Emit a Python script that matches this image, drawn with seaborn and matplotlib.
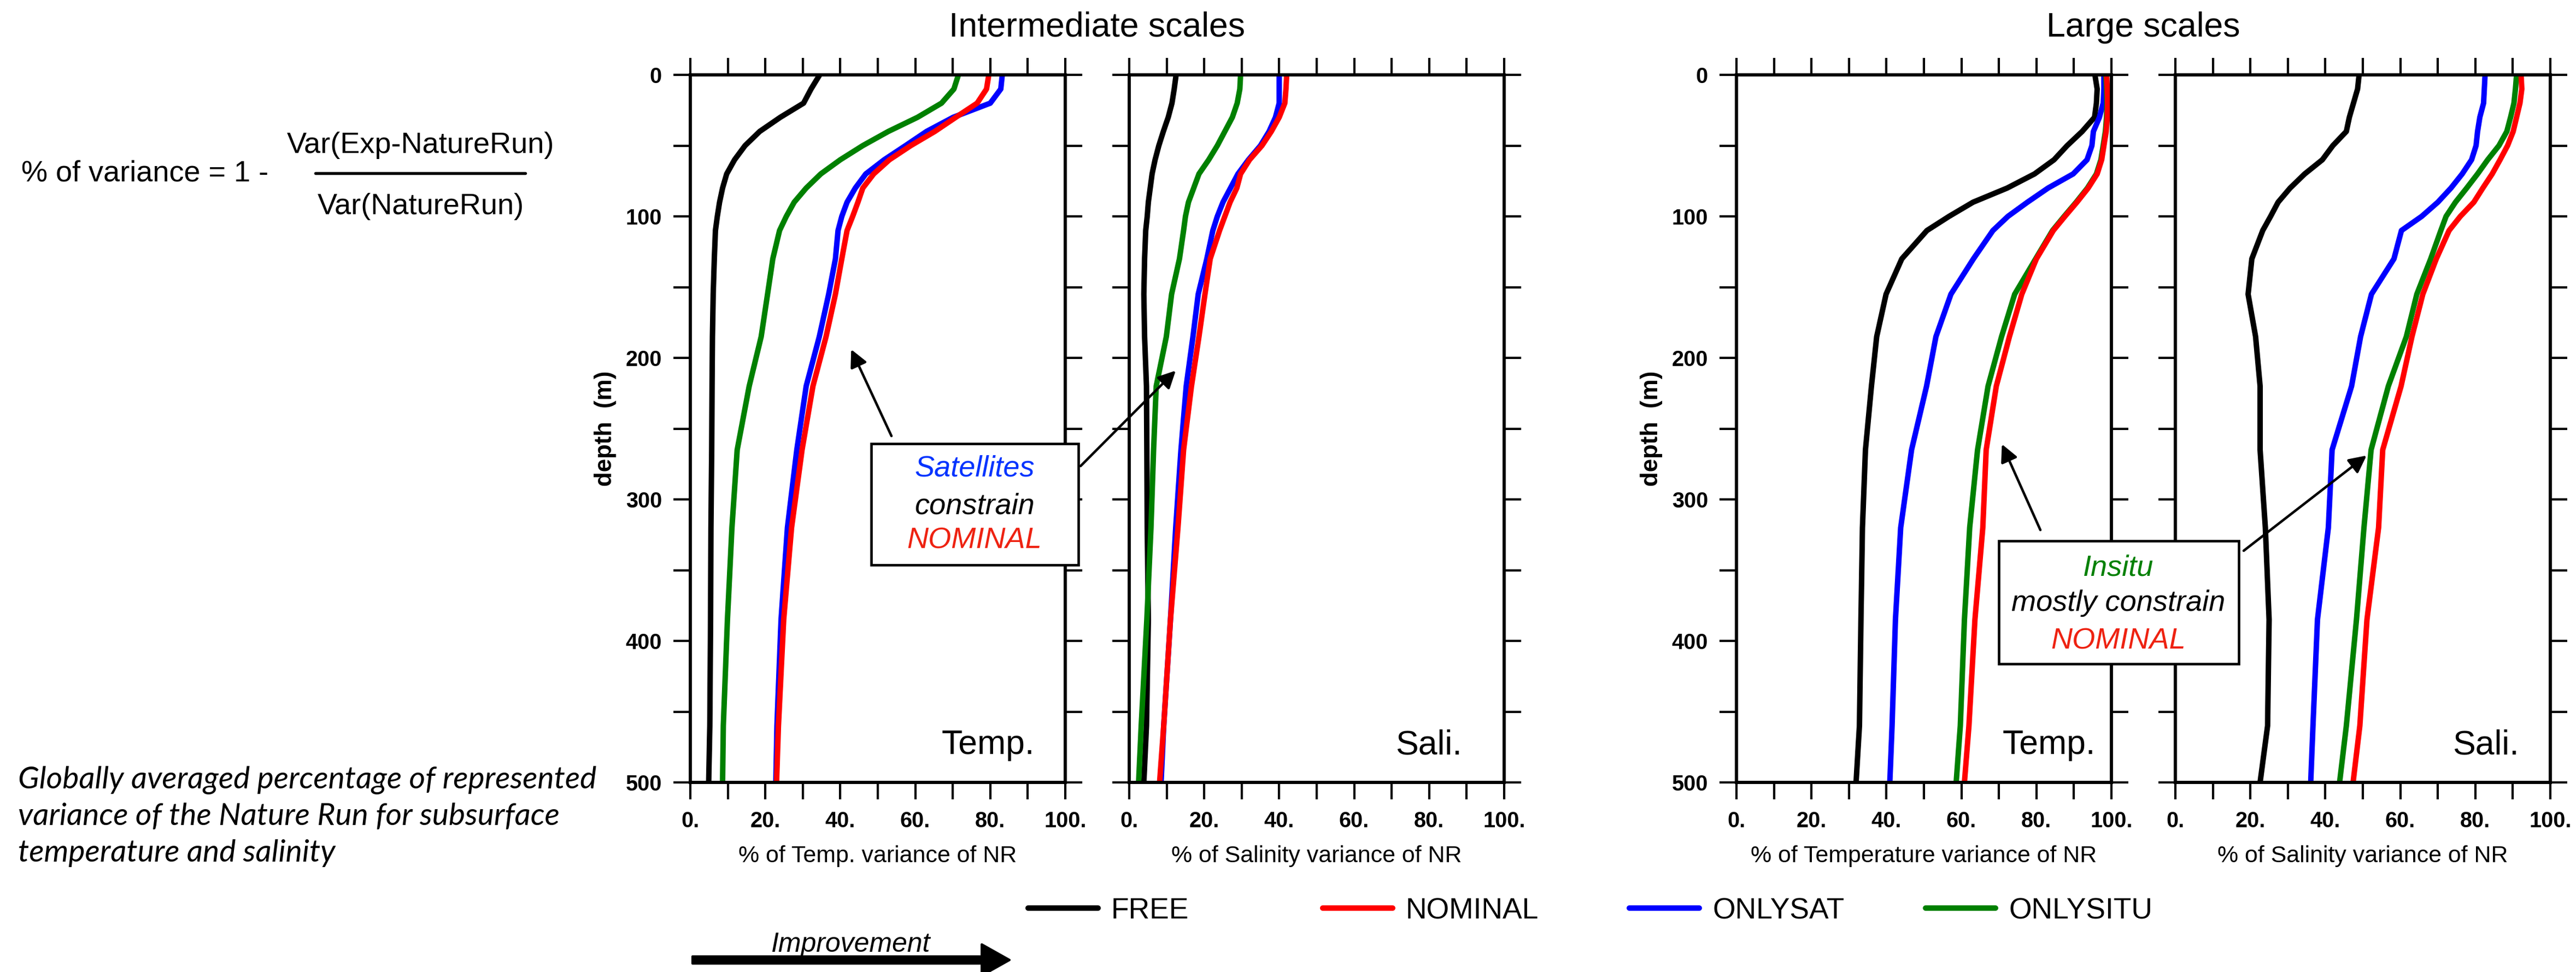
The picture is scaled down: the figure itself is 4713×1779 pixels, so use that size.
import pandas as pd
import matplotlib
matplotlib.use('Agg')
import matplotlib.pyplot as plt
from matplotlib.patches import Rectangle, FancyArrowPatch
from matplotlib.lines import Line2D
import seaborn as sns

# depth levels (m) at which the profiles were read
DEPTH = [0, 10, 20, 30, 40, 50, 60, 70, 80, 90, 100, 110, 130, 155, 185, 220, 265, 320, 385, 460, 500]

EXPERIMENTS = ['FREE', 'NOMINAL', 'ONLYSAT', 'ONLYSITU']
DRAW_ORDER = ['FREE', 'ONLYSAT', 'ONLYSITU', 'NOMINAL']
COLORS = {'FREE': '#000000', 'NOMINAL': '#ff0000', 'ONLYSAT': '#0000ff', 'ONLYSITU': '#008000'}

# intermediate scales - temperature
IT_FREE = [34.5, 32.2, 30.2, 24.0, 18.5, 14.6, 11.8, 9.7, 8.6, 7.8, 7.2, 6.7, 6.4, 6.1, 5.9, 5.8, 5.7, 5.5, 5.4, 5.2, 4.9]
IT_NOMINAL = [79.6, 79.0, 76.5, 70.8, 65.2, 58.8, 53.1, 48.9, 46.0, 44.7, 43.3, 41.8, 40.4, 38.7, 36.2, 32.7, 29.8, 27.0, 24.9, 23.5, 23.0]
IT_ONLYSAT = [83.2, 82.8, 80.0, 70.1, 63.0, 57.4, 51.7, 46.8, 44.0, 41.8, 40.4, 39.4, 38.7, 36.9, 34.4, 30.9, 28.4, 25.9, 24.2, 23.1, 22.8]
IT_ONLYSITU = [71.5, 70.3, 67.0, 60.6, 52.8, 46.0, 40.0, 34.8, 30.9, 27.7, 25.6, 23.8, 22.0, 20.6, 18.9, 15.7, 12.5, 11.1, 9.9, 8.8, 8.6]

# intermediate scales - salinity
IS_FREE = [12.5, 12.0, 11.4, 10.4, 9.1, 7.9, 6.9, 6.1, 5.6, 5.1, 4.8, 4.4, 4.1, 3.9, 4.1, 4.6, 4.7, 4.8, 5.1, 4.6, 3.9]
IS_NOMINAL = [42.0, 41.8, 41.5, 40.0, 37.9, 35.4, 32.1, 29.7, 28.7, 26.9, 25.5, 24.1, 21.6, 20.2, 18.6, 16.6, 14.5, 13.0, 11.0, 9.2, 8.1]
IS_ONLYSAT = [40.0, 40.0, 40.0, 39.0, 37.3, 35.0, 31.8, 29.0, 27.0, 25.0, 23.5, 22.3, 20.7, 18.4, 17.0, 15.2, 13.8, 12.4, 11.0, 9.2, 8.5]
IS_ONLYSITU = [29.7, 29.5, 28.8, 27.5, 25.5, 23.5, 21.2, 18.6, 17.2, 15.8, 15.0, 14.5, 13.4, 11.3, 9.9, 7.2, 6.5, 5.8, 4.7, 3.2, 2.5]

# large scales - temperature
LT_FREE = [95.6, 96.2, 96.0, 95.5, 92.2, 88.2, 84.7, 79.5, 72.2, 63.1, 56.7, 50.8, 44.1, 39.9, 37.4, 36.0, 34.4, 33.6, 33.2, 32.8, 31.9]
LT_NOMINAL = [98.7, 98.9, 99.0, 98.9, 98.6, 98.0, 97.4, 96.2, 93.8, 90.8, 87.6, 84.5, 80.0, 76.1, 72.8, 69.3, 66.6, 65.7, 63.6, 62.0, 60.8]
LT_ONLYSAT = [98.0, 98.0, 97.8, 96.8, 95.2, 94.8, 93.5, 89.8, 83.1, 77.6, 72.4, 68.4, 63.2, 57.2, 53.2, 50.7, 46.7, 43.8, 42.4, 41.5, 40.9]
LT_ONLYSITU = [98.5, 98.7, 98.8, 98.7, 98.4, 97.8, 97.2, 96.0, 93.6, 90.6, 87.4, 84.3, 79.8, 74.2, 70.7, 67.1, 64.3, 62.2, 60.8, 59.7, 58.6]

# large scales - salinity
LS_FREE = [49.0, 48.6, 47.5, 46.4, 45.6, 42.0, 39.2, 34.5, 30.6, 27.4, 25.4, 23.3, 20.4, 19.4, 21.4, 22.6, 22.6, 24.0, 25.0, 24.6, 22.6]
LS_NOMINAL = [92.2, 92.4, 91.9, 91.0, 90.1, 88.6, 86.6, 84.5, 82.0, 79.6, 76.0, 73.0, 69.6, 66.0, 63.1, 60.2, 55.3, 54.2, 51.1, 49.2, 47.4]
LS_ONLYSAT = [82.6, 82.4, 82.2, 81.2, 80.6, 80.2, 79.0, 76.5, 73.5, 70.0, 65.7, 60.3, 58.3, 52.3, 49.4, 47.0, 41.8, 40.8, 37.9, 36.7, 36.1]
LS_ONLYSITU = [91.0, 90.7, 90.3, 89.4, 88.4, 86.3, 83.3, 80.6, 77.7, 74.7, 72.2, 70.8, 68.1, 64.4, 61.6, 56.8, 52.2, 50.3, 48.3, 45.6, 43.8]

PANELS = ['it', 'is', 'lt', 'ls']
XLABELS = ['% of Temp. variance of NR', '% of Salinity variance of NR',
           '% of Temperature variance of NR', '% of Salinity variance of NR']
TAGS = ['Temp.', 'Sali.', 'Temp.', 'Sali.']
SERIES = {
    'it': {'FREE': IT_FREE, 'NOMINAL': IT_NOMINAL, 'ONLYSAT': IT_ONLYSAT, 'ONLYSITU': IT_ONLYSITU},
    'is': {'FREE': IS_FREE, 'NOMINAL': IS_NOMINAL, 'ONLYSAT': IS_ONLYSAT, 'ONLYSITU': IS_ONLYSITU},
    'lt': {'FREE': LT_FREE, 'NOMINAL': LT_NOMINAL, 'ONLYSAT': LT_ONLYSAT, 'ONLYSITU': LT_ONLYSITU},
    'ls': {'FREE': LS_FREE, 'NOMINAL': LS_NOMINAL, 'ONLYSAT': LS_ONLYSAT, 'ONLYSITU': LS_ONLYSITU},
}

rows = []
for p in PANELS:
    for exp, vals in SERIES[p].items():
        for d, v in zip(DEPTH, vals):
            rows.append({'panel': p, 'experiment': exp, 'depth': d, 'variance': v})
df = pd.DataFrame(rows)

sns.set_style('ticks', {'axes.edgecolor': 'black', 'xtick.color': 'black', 'ytick.color': 'black',
                        'text.color': 'black', 'axes.labelcolor': 'black'})
plt.rcParams['font.family'] = ['Liberation Sans', 'DejaVu Sans']

W, H = 4713, 1779
fig = plt.figure(figsize=(W / 300, H / 300), dpi=300)


def fx(px):
    return px / W


def fy(py):
    return 1 - py / H


lefts = [1263, 2066, 3177, 3980]
tag_x = [67, 71, 71, 74]
axes = []
for i, p in enumerate(PANELS):
    ax = fig.add_axes([fx(lefts[i]), fy(1432), 686 / W, (1432 - 137) / H])
    sns.lineplot(data=df[df['panel'] == p], x='variance', y='depth', hue='experiment',
                 hue_order=DRAW_ORDER, palette=COLORS, orient='y', sort=False,
                 estimator=None, linewidth=2.4, legend=False, ax=ax)
    ax.set_xlim(0, 100)
    ax.set_ylim(500, 0)
    ax.set_xticks(range(0, 101, 20))
    ax.set_xticks(range(10, 100, 20), minor=True)
    ax.set_xticklabels([f'{t}.' for t in range(0, 101, 20)], fontweight='bold')
    ax.set_yticks(range(0, 501, 100))
    ax.set_yticks(range(50, 500, 100), minor=True)
    if i in (0, 2):
        ax.set_yticklabels([str(t) for t in range(0, 501, 100)], fontweight='bold')
        ax.set_ylabel('depth  (m)', fontweight='bold', fontsize=10.5, labelpad=4)
    else:
        ax.set_yticklabels([])
        ax.set_ylabel('')
    ax.tick_params(which='both', direction='out', length=7.5, width=1.0,
                   top=True, right=True, labelsize=9.5, pad=5)
    for s in ax.spines.values():
        s.set_linewidth(1.4)
    ax.set_xlabel(XLABELS[i], fontsize=10.3, labelpad=6)
    ax.text(tag_x[i], 480, TAGS[i], fontsize=15, va='baseline')
    axes.append(ax)

# titles
fig.text(fx(2007), fy(50), 'Intermediate scales', fontsize=15, ha='center', va='center')
fig.text(fx(3921), fy(50), 'Large scales', fontsize=15, ha='center', va='center')

# legend: one entry per slot, on a fixed grid like the original
lines = axes[0].get_lines()
slots = [1881, 2420, 2981, 3523]
for name, sx in zip(EXPERIMENTS, slots):
    leg = fig.legend([lines[DRAW_ORDER.index(name)]], [name], loc='center left',
                     bbox_to_anchor=(fx(sx), fy(1667)), frameon=False, fontsize=12.8,
                     handlelength=2.4, handletextpad=0.45, borderpad=0, borderaxespad=0)

# formula
fig.text(fx(39), fy(318), '% of variance = 1 -', fontsize=13, ha='left', va='center')
fig.text(fx(769), fy(266), 'Var(Exp-NatureRun)', fontsize=13, ha='center', va='center')
fig.text(fx(770), fy(378), 'Var(NatureRun)', fontsize=13, ha='center', va='center')
fig.add_artist(Line2D([fx(577), fx(961)], [fy(317), fy(317)], transform=fig.transFigure,
                      color='black', lw=1.3))

# caption
fig.text(fx(33), fy(1494),
         'Globally averaged percentage of represented\nvariance of the Nature Run for subsurface\ntemperature and salinity',
         fontsize=13.7, family=['Lato', 'DejaVu Sans'], style='italic', ha='left', va='center',
         linespacing=1.4)

# improvement arrow
fig.add_artist(FancyArrowPatch((fx(1267), fy(1757)), (fx(1847), fy(1757)), transform=fig.transFigure,
                               arrowstyle='simple,head_length=1.22,head_width=1.37,tail_width=0.31',
                               mutation_scale=10, color='black', shrinkA=0, shrinkB=0))
fig.text(fx(1556), fy(1742), 'Improvement', fontsize=12, style='italic', ha='center', va='baseline')

# annotation boxes
arrow_kw = dict(arrowstyle='-|>', color='black', lw=1.1, mutation_scale=16, shrinkA=0, shrinkB=0)
axes[0].annotate('', xy=(42.9, 194), xytext=(fx(1631), fy(798)), textcoords='figure fraction',
                 arrowprops=arrow_kw, annotation_clip=False)
axes[1].annotate('', xy=(12.4, 209), xytext=(fx(1977), fy(853)), textcoords='figure fraction',
                 arrowprops=arrow_kw, annotation_clip=False)
axes[2].annotate('', xy=(70.8, 261), xytext=(fx(3733), fy(970)), textcoords='figure fraction',
                 arrowprops=arrow_kw, annotation_clip=False)
axes[3].annotate('', xy=(51.0, 269), xytext=(fx(4105), fy(1008)), textcoords='figure fraction',
                 arrowprops=arrow_kw, annotation_clip=False)

fig.add_artist(Rectangle((fx(1594), fy(1034)), (1973 - 1594) / W, (1034 - 812) / H,
                         transform=fig.transFigure, facecolor='white', edgecolor='black', lw=1.1, zorder=5))
for txt, col, py in [('Satellites', '#0033ff', 858), ('constrain', 'black', 927), ('NOMINAL', '#ee2211', 990)]:
    fig.text(fx(1783), fy(py), txt, color=col, fontsize=13, style='italic', ha='center', va='center', zorder=6)

fig.add_artist(Rectangle((fx(3657), fy(1215)), (4096 - 3657) / W, (1215 - 990) / H,
                         transform=fig.transFigure, facecolor='white', edgecolor='black', lw=1.1, zorder=5))
for txt, col, py in [('Insitu', '#008000', 1039), ('mostly constrain', 'black', 1104), ('NOMINAL', '#ee2211', 1173)]:
    fig.text(fx(3876), fy(py), txt, color=col, fontsize=13, style='italic', ha='center', va='center', zorder=6)

fig.savefig('out.png', dpi=300)
